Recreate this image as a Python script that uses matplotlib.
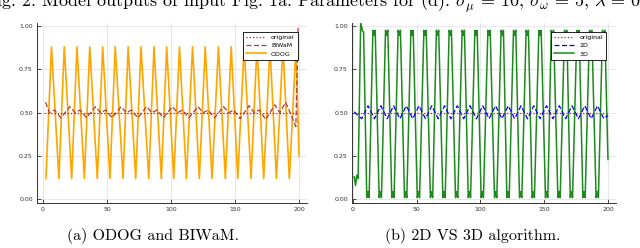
# -*- coding: utf-8 -*-
""" Model outputs: ODOG / BIWaM and 2D vs 3D """
import matplotlib.pyplot as plt

# ---- data ------------------------------------------------------------
original_x = [1, 200]
original_y = [0.5, 0.5]

# (a) ODOG: triangle-like wave, positions of troughs / peaks
odog_trough_x = [2.3, 12.4, 22.4, 32.3, 42.4, 52.3, 62.5, 72.4, 82.6, 92.4,
                 102.1, 112.0, 122.1, 132.0, 142.4, 152.1, 162.5, 172.4,
                 182.3, 192.4]
odog_peak_x = [6.6, 16.6, 26.5, 36.5, 46.6, 56.4, 66.5, 76.5, 86.7, 96.6,
               106.6, 116.8, 126.7, 137.0, 147.0, 157.1, 167.1, 177.3,
               187.4, 197.6]
odog_low = 0.12
odog_high = 0.88
odog_end = (200, 0.25)

# (a) BIWaM: small wiggle round 0.5, spike at the right border
biwam_x = [2, 5, 9, 14, 21, 25, 29, 34, 41, 45, 49, 54, 61, 65, 69, 74,
           81, 85, 89, 94, 101, 105, 109, 114, 121, 125, 129, 134, 141, 145,
           149, 154, 161, 165, 169, 174, 181, 185, 189.5, 193, 197.5, 199.3]
biwam_y = [0.56, 0.50, 0.515, 0.47, 0.535, 0.50, 0.515, 0.47, 0.535, 0.50,
           0.515, 0.47, 0.535, 0.50, 0.515, 0.47, 0.535, 0.50, 0.515, 0.47,
           0.535, 0.50, 0.515, 0.47, 0.535, 0.50, 0.515, 0.47, 0.535, 0.50,
           0.515, 0.465, 0.54, 0.50, 0.515, 0.46, 0.545, 0.50, 0.56, 0.50,
           0.42, 1.0]

# (b) 2D: wiggle round 0.5
d2_dip_x = [6.8, 16.8, 26.8, 36.8, 46.8, 56.8, 66.8, 76.8, 86.8, 96.8,
            106.8, 116.8, 126.8, 136.8, 146.8, 156.8, 166.8, 176.8, 186.8,
            196.8]
d2_peak_x = [11.8, 21.8, 31.8, 41.8, 51.8, 61.8, 71.8, 81.8, 91.8, 101.8,
             111.8, 121.8, 131.8, 141.8, 151.8, 161.8, 171.8, 181.8, 191.8]
d2_low = 0.465
d2_high = 0.54
d2_start = (1, 0.505)
d2_end = (200, 0.485)

# (b) 3D: large wave with notched tops ("M") and bottoms ("W")
d3_start_x = [1, 2, 3, 4, 6, 7.5, 8.3]
d3_start_y = [0.13, 0.08, 0.14, 0.12, 1.02, 0.97, 0.965]
d3_top_x = [16.5, 26.4, 36.3, 46.3, 56.5, 66.3, 76.3, 86.5, 96.5, 106.7,
            117.1, 126.8, 136.7, 146.7, 156.4, 166.8, 176.5, 186.4, 196.6]
d3_bottom_x = [11.7, 21.4, 31.3, 41.3, 51.3, 61.6, 71.4, 81.3, 91.3, 101.4,
               111.9, 121.6, 131.5, 141.4, 151.9, 161.6, 171.3, 181.2, 191.6]
d3_top = (0.975, 0.945)      # shoulders, notch
d3_bottom = (0.01, 0.045)    # shoulders, bump
d3_end = (200, 0.23)

XLIM_A = (-4.7, 206.2)
XLIM_B = (-0.8, 206.3)
YLIM = (-0.021, 1.02)


def wave(low_x, high_x, low_y, high_y):
    """ Merge trough / peak positions into one polyline """
    pts = [(x, low_y) for x in low_x] + [(x, high_y) for x in high_x]
    pts.sort()
    return [p[0] for p in pts], [p[1] for p in pts]


def notched(low_x, high_x, low_lev, high_lev, half=0.9):
    """ Like wave(), but each extreme is drawn as a small M / W """
    pts = []
    for x in low_x:
        pts += [(x - half, low_lev[0]), (x, low_lev[1]), (x + half, low_lev[0])]
    for x in high_x:
        pts += [(x - half, high_lev[0]), (x, high_lev[1]), (x + half, high_lev[0])]
    pts.sort()
    return [p[0] for p in pts], [p[1] for p in pts]


def style_axes(ax, xlim):
    ax.set_xlim(*xlim)
    ax.set_ylim(*YLIM)
    ax.set_xticks([0, 50, 100, 150, 200])
    ax.set_yticks([0, 0.25, 0.5, 0.75, 1.0])
    ax.set_yticklabels(["0.00", "0.25", "0.50", "0.75", "1.00"])
    ax.grid(True, color="#e4e4e4", lw=0.6)
    ax.set_axisbelow(True)
    for side in ("top", "right"):
        ax.spines[side].set_visible(False)
    for side in ("left", "bottom"):
        ax.spines[side].set_linewidth(0.7)
        ax.spines[side].set_color("#333333")
    ax.tick_params(direction="in", length=3, width=0.6, labelsize=4.5,
                   pad=3, colors="#333333")


def legend(ax, x_anchor):
    leg = ax.legend(loc="upper right", bbox_to_anchor=(x_anchor, 0.949),
                    borderaxespad=0, fontsize=4.5, handlelength=3.2,
                    handletextpad=0.8, labelspacing=0.45, borderpad=0.5,
                    fancybox=False, framealpha=1)
    leg.get_frame().set_edgecolor("black")
    leg.get_frame().set_linewidth(0.6)


def main():
    plt.rcParams["mathtext.fontset"] = "cm"
    fig = plt.figure(figsize=(6.4, 2.48), dpi=100)

    ax1 = fig.add_axes([37 / 640, 45 / 248, 270 / 640, 180.5 / 248])
    ox, oy = wave(odog_trough_x, odog_peak_x, odog_low, odog_high)
    ox.append(odog_end[0])
    oy.append(odog_end[1])
    ax1.plot(original_x, original_y, color="red", lw=0.9, ls=":",
             label="original", zorder=4)
    ax1.plot(biwam_x, biwam_y, color="#b03838", lw=0.9, dashes=(4, 2),
             label="BIWaM", zorder=3)
    ax1.plot(ox, oy, color="#ffa500", lw=1.2, label="ODOG", zorder=2)
    style_axes(ax1, XLIM_A)
    legend(ax1, 0.9656)

    ax2 = fig.add_axes([352 / 640, 45 / 248, 264 / 640, 180.5 / 248])
    bx, by = wave(d2_dip_x, d2_peak_x, d2_low, d2_high)
    bx = [d2_start[0]] + bx + [d2_end[0]]
    by = [d2_start[1]] + by + [d2_end[1]]
    gx, gy = notched(d3_bottom_x, d3_top_x, d3_bottom, d3_top)
    gx = d3_start_x + gx + [d3_end[0]]
    gy = d3_start_y + gy + [d3_end[1]]
    ax2.plot(original_x, original_y, color="red", lw=0.9, ls=":",
             label="original", zorder=4)
    ax2.plot(bx, by, color="blue", lw=0.9, dashes=(4, 2), label="2D",
             zorder=3)
    ax2.plot(gx, gy, color="#1c8a1c", lw=1.1, label="3D", zorder=2)
    style_axes(ax2, XLIM_B)
    legend(ax2, 0.962)

    fig.text(-15 / 640, 241 / 248,
             r"Fig. 2: Model outputs of input Fig. 1a. Parameters for (d): "
             r"$\sigma_\mu\,=\,10$, $\sigma_\omega\,=\,5$, $\lambda\,=\,0.$",
             family="cmr10", fontsize=13, va="baseline", ha="left")
    fig.text(153 / 640, 11.5 / 248, "(a) ODOG and BIWaM.", family="cmr10",
             fontsize=11.5, ha="center", va="center")
    fig.text(472.5 / 640, 11.5 / 248, "(b) 2D VS 3D algorithm.",
             family="cmr10", fontsize=11.5, ha="center", va="center")

    fig.savefig("out.png", dpi=100)


if __name__ == '__main__':
    main()
